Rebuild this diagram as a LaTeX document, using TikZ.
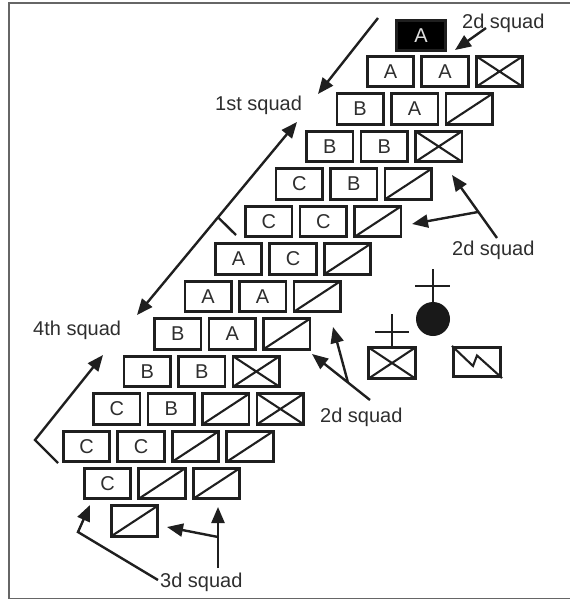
\documentclass[tikz,border=0pt]{standalone}
\usepackage{fontspec}
\setmainfont{Liberation Sans}
\usetikzlibrary{arrows.meta}
\begin{document}
\begin{tikzpicture}[x=1pt,y=-1pt,
  cell/.style={draw=black!88, line width=2.6pt, minimum width=46.5pt, minimum height=30.5pt, inner sep=0pt, font=\fontsize{20}{20}\selectfont, text=black!82},
  slashcell/.style={cell, path picture={\draw[line width=2.1pt, black!88] (path picture bounding box.south west) -- (path picture bounding box.north east);}},
  crosscell/.style={cell, path picture={\draw[line width=2.1pt, black!88] (path picture bounding box.south west) -- (path picture bounding box.north east) (path picture bounding box.north west) -- (path picture bounding box.south east);}},
  lbl/.style={anchor=base west, inner sep=0pt, font=\fontsize{20}{20}\selectfont, text=black!82},
  arr/.style={line width=2.4pt, draw=black!88, -{Triangle[length=16pt,width=13pt]}},
  darr/.style={line width=2.4pt, draw=black!88, {Triangle[length=16pt,width=13pt]}-{Triangle[length=16pt,width=13pt]}},
  ln/.style={line width=2.4pt, draw=black!88},
  framestyle/.style={draw=black!60, line width=1.3pt}]
\useasboundingbox (0,0) rectangle (570,600);
% frame
\draw[framestyle] (9,598.5) -- (9,3) -- (570,3);
\draw[framestyle] (9,598.5) -- (570,598.5);

% top black box
\node[cell, fill=black, text=black!12, minimum width=49.5pt] (b-0-0) at (421,35.5) {A};

% lettered boxes
\foreach \r/\c/\t in {1/0/A,1/1/A,2/0/B,2/1/A,3/0/B,3/1/B,4/0/C,4/1/B,5/0/C,5/1/C,6/0/A,6/1/C,7/0/A,7/1/A,8/0/B,8/1/A,9/0/B,9/1/B,10/0/C,10/1/B,11/0/C,11/1/C}{
  \pgfmathsetmacro\xx{366-30.4*(\r-1)+24.5+54.5*\c}
  \pgfmathsetmacro\yy{55+37.5*(\r-1)+16.5}
  \node[cell] (b-\r-\c) at (\xx,\yy) {\t};
}
% slashed boxes
\foreach \r/\c in {2/2,4/2,5/2,6/2,7/2,8/2,10/2,11/2,11/3}{
  \pgfmathsetmacro\xx{366-30.4*(\r-1)+24.5+54.5*\c}
  \pgfmathsetmacro\yy{55+37.5*(\r-1)+16.5}
  \node[slashcell] (b-\r-\c) at (\xx,\yy) {};
}
% crossed boxes
\foreach \r/\c in {1/2,3/2,9/2,10/3}{
  \pgfmathsetmacro\xx{366-30.4*(\r-1)+24.5+54.5*\c}
  \pgfmathsetmacro\yy{55+37.5*(\r-1)+16.5}
  \node[crosscell] (b-\r-\c) at (\xx,\yy) {};
}
% rows 12 and 13
\node[cell] (b-12-0) at (107.5,483.5) {C};
\node[slashcell] (b-12-1) at (162,483.5) {};
\node[slashcell] (b-12-2) at (216.5,483.5) {};
\node[slashcell] (b-13-0) at (134.5,521) {};

% labels
\node[lbl] (l2a) at (462,28) {2d squad};
\node[lbl] (l1) at (215,110) {1st squad};
\node[lbl] (l4) at (33,335) {4th squad};
\node[lbl] (l2b) at (452,255) {2d squad};
\node[lbl] (l2c) at (320,422) {2d squad};
\node[lbl] (l3) at (160,587) {3d squad};

% arrows
\coordinate (t1) at (378,18); \coordinate (h1) at (318,94);
\draw[arr] (t1) -- (h1);
\coordinate (t2) at (486,28); \coordinate (h2) at (455,50);
\draw[arr] (t2) -- (h2);
\coordinate (d1) at (137,315); \coordinate (d2) at (297,122);
\draw[darr] (d1) -- (d2);
\coordinate (k1) at (218,217.3); \coordinate (k2) at (236,235);
\draw[ln] (k1) -- (k2);
\coordinate (f1) at (58,463); \coordinate (f2) at (35,440); \coordinate (f3) at (103,355);
\draw[arr] (f1) -- (f2) -- (f3);
\coordinate (r1) at (497,238); \coordinate (r2) at (452,175);
\coordinate (r3) at (478,212); \coordinate (r4) at (412,224);
\draw[arr] (r1) -- (r2);
\draw[arr] (r3) -- (r4);
\coordinate (q1) at (370,400); \coordinate (q2) at (312,354);
\coordinate (q3) at (348,382.6); \coordinate (q4) at (333,327);
\draw[arr] (q1) -- (q2);
\draw[arr] (q3) -- (q4);
\coordinate (p1) at (158,580); \coordinate (p2) at (78,532); \coordinate (p3) at (90,505);
\draw[arr] (p1) -- (p2) -- (p3);
\coordinate (v1) at (218,568); \coordinate (v2) at (218,507);
\coordinate (v3) at (218,537); \coordinate (v4) at (167,527);
\draw[arr] (v1) -- (v2);
\draw[arr] (v3) -- (v4);

% symbols
\node[circle, fill=black!90, minimum size=34pt, inner sep=0pt] (s1) at (433,319) {};
\coordinate (s1t) at (433,269);
\draw[ln] (s1.north) -- (s1t);
\coordinate (s1a) at (415,286); \coordinate (s1b) at (450,286);
\draw[ln] (s1a) -- (s1b);
\node[crosscell, minimum width=47.5pt, minimum height=31.5pt] (s2) at (392,363) {};
\coordinate (s2t) at (392,314);
\draw[ln] (s2.north) -- (s2t);
\coordinate (s2a) at (375,332); \coordinate (s2b) at (409,332);
\draw[ln] (s2a) -- (s2b);
\node[cell, minimum width=47.5pt, minimum height=29.5pt] (s3) at (477,362) {};
\coordinate (z1) at (473,366); \coordinate (z2) at (477,355.5);
\draw[line width=2.1pt, black!88] (s3.north west) -- (z1) -- (z2) -- (s3.south east);
\end{tikzpicture}
\end{document}
